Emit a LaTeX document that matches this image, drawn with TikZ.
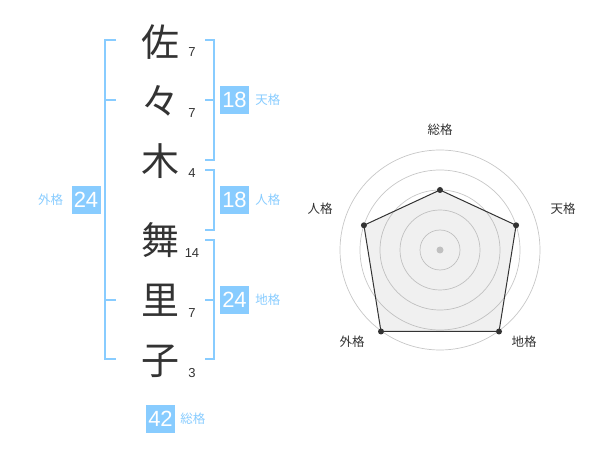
\documentclass[tikz,border=0pt]{standalone}
\usepackage{fontspec}
\setmainfont{Liberation Sans}
\newfontfamily\jpfont{Noto Sans CJK JP}
\usetikzlibrary{positioning}
\definecolor{kakublue}{HTML}{88CCFF}
\definecolor{inkgray}{HTML}{333333}

\begin{document}
\begin{tikzpicture}[
    x=1pt, y=-1pt,
    kanji/.style={font=\jpfont\fontsize{38}{38}\selectfont, text=inkgray, inner sep=0pt},
    strokes/.style={font=\fontsize{13}{13}\selectfont, text=inkgray, inner sep=0pt},
    numbox/.style={fill=kakublue, text=white, font=\fontsize{22}{22}\selectfont,
                   minimum width=29pt, minimum height=28pt, inner sep=0pt},
    kaku/.style={font=\jpfont\fontsize{12.5}{12.5}\selectfont, text=kakublue, inner sep=0pt},
    bracket/.style={draw=kakublue, line width=2pt},
    ring/.style={draw=black!22, line width=0.7pt},
    vertex/.style={circle, fill=inkgray, inner sep=0pt, minimum size=6pt},
    axis/.style={font=\jpfont\fontsize{12.5}{12.5}\selectfont, text=inkgray, inner sep=0pt}
]
\useasboundingbox (0,0) rectangle (600,470);

% name characters and stroke counts
\node[kanji] (sa) at (160,42) {佐};
\node[kanji] (noma) at (160,101) {々};
\node[kanji] (ki) at (160,161) {木};
\node[kanji] (mai) at (160,240) {舞};
\node[kanji] (ri) at (160,300) {里};
\node[kanji] (ko) at (160,361) {子};

\node[strokes] (s1) at (192,52) {7};
\node[strokes] (s2) at (192,113) {7};
\node[strokes] (s3) at (192,173) {4};
\node[strokes] (s4) at (192,253) {14};
\node[strokes] (s5) at (192,313) {7};
\node[strokes] (s6) at (192,373) {3};

% brackets
\draw[bracket] (116,40) -- (105,40) -- (105,359) -- (116,359);
\draw[bracket] (105,100) -- (116,100);
\draw[bracket] (105,300) -- (116,300);
\draw[bracket] (205,40) -- (214,40) -- (214,160) -- (205,160);
\draw[bracket] (214,100) -- (205,100);
\draw[bracket] (205,170) -- (214,170) -- (214,230) -- (205,230);
\draw[bracket] (205,240) -- (214,240) -- (214,359) -- (205,359);
\draw[bracket] (214,300) -- (205,300);

% totals
\node[numbox] (gai) at (86,200) {24};
\node[kaku, left=8pt of gai] (gailabel) {外格};
\node[numbox] (ten) at (234.5,100) {18};
\node[kaku, right=6pt of ten] (tenlabel) {天格};
\node[numbox] (jin) at (234.5,200) {18};
\node[kaku, right=6pt of jin] (jinlabel) {人格};
\node[numbox] (chi) at (234.5,300) {24};
\node[kaku, right=6pt of chi] (chilabel) {地格};
\node[numbox] (sou) at (160.5,419) {42};
\node[kaku, right=5pt of sou] (soulabel) {総格};

% radar chart
\begin{scope}[shift={(440,250)}, yscale=-1]
  \foreach \r in {20,40,60,80,100}
    \draw[ring] (0,0) circle (\r);
  \fill[black!22] (0,0) circle (3.5);
  \coordinate (psou) at (90:60);
  \coordinate (pten) at (18:80);
  \coordinate (pchi) at (59,-81.5);
  \coordinate (pgai) at (-59,-81.5);
  \coordinate (pjin) at (162:80);
  \filldraw[fill=black!40, fill opacity=0.15, draw=inkgray, line width=1pt]
    (psou) -- (pten) -- (pchi) -- (pgai) -- (pjin) -- cycle;
  \foreach \p in {psou,pten,pchi,pgai,pjin}
    \node[vertex] at (\p) {};
\end{scope}

\node[axis] (asou) at (440,130) {総格};
\node[axis] (aten) at (563,209) {天格};
\node[axis] (ajin) at (320,209) {人格};
\node[axis] (agai) at (352,342) {外格};
\node[axis] (achi) at (524,342) {地格};

\end{tikzpicture}
\end{document}
